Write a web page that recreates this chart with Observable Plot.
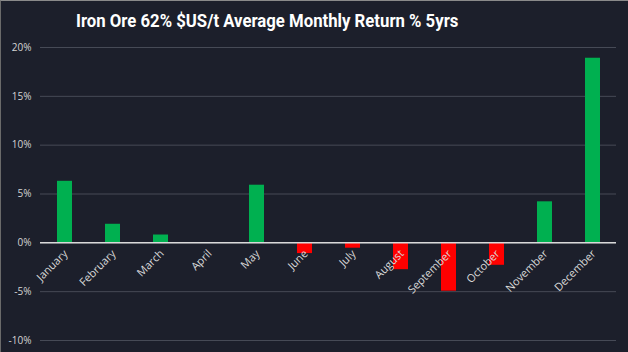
<!DOCTYPE html>
<html>
<head>
<meta charset="utf-8">
<script src="https://cdn.jsdelivr.net/npm/d3@7"></script>
<script src="https://cdn.jsdelivr.net/npm/@observablehq/plot@0.6"></script>
<style>
  html, body { margin: 0; padding: 0; background: #1c1f2b; }
  #frame { position: relative; width: 628px; height: 352px; box-sizing: border-box; border-top: 1px solid #8a8a8a; border-left: 1px solid #6a6a6a; background: #1c1f2b; overflow: hidden; }
  #title { position: absolute; left: 75px; top: 9px; font-family: Roboto, sans-serif; font-weight: 700; font-size: 18px; color: #ffffff; white-space: nowrap; transform: scaleX(0.93); transform-origin: left top; }
  #chart { position: absolute; left: -1px; top: 35px; }
</style>
</head>
<body>
<div id="frame">
  <div id="title">Iron Ore 62% $US/t Average Monthly Return % 5yrs</div>
  <div id="chart"></div>
</div>
<script>
const months = ["January","February","March","April","May","June","July","August","September","October","November","December"];
const returns = [6.3, 1.9, 0.8, 0.0, 5.9, -1.1, -0.55, -2.75, -4.95, -2.3, 4.2, 18.9];
const yTicks = [-10, -5, 0, 5, 10, 15, 20];

const data = months.map((m, i) => ({month: m, value: returns[i]}));

const chart = Plot.plot({
  width: 628,
  height: 316,
  marginLeft: 40,
  marginRight: 12,
  marginTop: 11,
  marginBottom: 12,
  style: {background: "transparent", color: "#d4d4d4", fontFamily: "'Open Sans', sans-serif", fontSize: "10px"},
  x: {domain: months, paddingInner: 0.69, paddingOuter: 0.345, axis: null},
  y: {domain: [-10, 20], ticks: yTicks, tickFormat: d => d + "%", label: null, tickSize: 0, tickPadding: 9},
  marks: [
    Plot.gridY(yTicks, {stroke: "#464a56", strokeOpacity: 1, strokeWidth: 1}),
    Plot.barY(data, {x: "month", y: "value", fill: d => d.value >= 0 ? "#00b050" : "#ff0000"}),
    Plot.ruleY([0], {stroke: "#d9d9d9", strokeWidth: 1.5}),
    Plot.text(data, {x: "month", y: 0, text: "month", rotate: -45, textAnchor: "end", dx: 1, dy: 9, fill: "#d9d9d9", fontSize: 11})
  ]
});
document.getElementById("chart").appendChild(chart);
</script>
</body>
</html>
